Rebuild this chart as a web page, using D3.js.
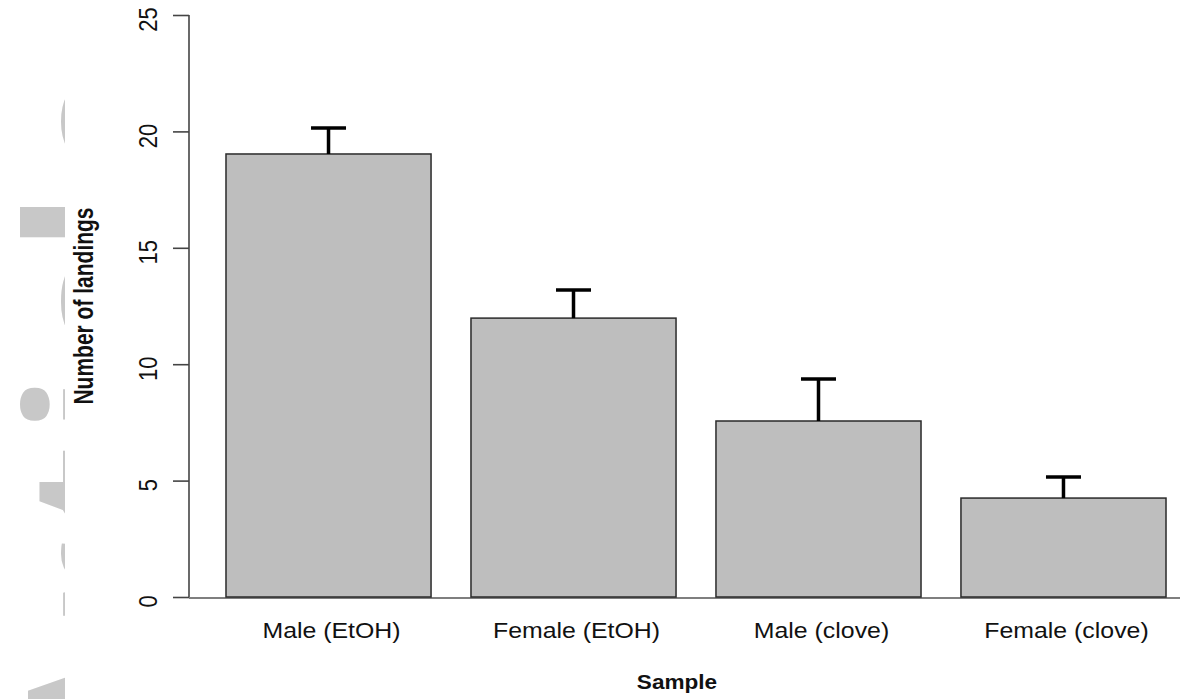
<!DOCTYPE html>
<html>
<head>
<meta charset="utf-8">
<script src="https://cdn.jsdelivr.net/npm/d3@7"></script>
<style>
  html, body { margin: 0; padding: 0; background: #fff; }
  svg { display: block; }
  text { font-family: Arial, "Liberation Sans", sans-serif; fill: #111; }
</style>
</head>
<body>
<svg id="chart" width="1194" height="699"></svg>
<script>
// Mean number of landings per sample, with standard error bars
const categories = ["Male (EtOH)", "Female (EtOH)", "Male (clove)", "Female (clove)"];
const means = [19.03, 11.98, 7.56, 4.25];
const errors = [1.12, 1.21, 1.80, 0.90];
const yTicks = [0, 5, 10, 15, 20, 25];
const xTitle = "Sample";
const yTitle = "Number of landings";
const watermark = "Accepted Article";

const svg = d3.select("#chart");
const W = 1194, H = 699;
const stretch = 1.13; // text is drawn slightly wide

// Journal watermark running up the left margin, mostly hidden behind the plot
const defs = svg.append("defs");
defs.append("clipPath").attr("id", "wm-clip")
  .append("rect").attr("x", 0).attr("y", 0).attr("width", 65).attr("height", H);
svg.append("g").attr("clip-path", "url(#wm-clip)")
  .append("text")
  .attr("transform", "translate(174,55) rotate(-90)")
  .attr("text-anchor", "end")
  .style("font-family", "'Open Sans', sans-serif")
  .style("font-weight", 700)
  .style("font-size", "203px")
  .style("letter-spacing", "8px")
  .style("fill", "#c8c8c8")
  .text(watermark);

// Scales
const y = d3.scaleLinear().domain([0, 25]).range([597, 15]);
const x = d3.scaleBand().domain(categories)
  .range([206, 1186])
  .paddingInner(0.163)
  .paddingOuter(0.0816);

// Baseline under the bars
svg.append("line")
  .attr("x1", 189).attr("x2", 1180)
  .attr("y1", y(0) + 1).attr("y2", y(0) + 1)
  .attr("stroke", "#555").attr("stroke-width", 1.5);

// Bars
svg.append("g").selectAll("rect")
  .data(categories)
  .join("rect")
  .attr("x", d => x(d))
  .attr("width", x.bandwidth())
  .attr("y", (d, i) => y(means[i]))
  .attr("height", (d, i) => y(0) - y(means[i]))
  .attr("fill", "#bebebe")
  .attr("stroke", "#2a2a2a")
  .attr("stroke-width", 1.5);

// Error bars (upper half only)
const eb = svg.append("g").attr("stroke", "#000").attr("stroke-width", 3.5).attr("fill", "none");
categories.forEach((c, i) => {
  const cx = x(c) + x.bandwidth() / 2;
  eb.append("line").attr("x1", cx).attr("x2", cx)
    .attr("y1", y(means[i])).attr("y2", y(means[i] + errors[i]));
  eb.append("line").attr("x1", cx - 17.5).attr("x2", cx + 17.5)
    .attr("y1", y(means[i] + errors[i])).attr("y2", y(means[i] + errors[i]));
});

// Y axis
const yAxis = d3.axisLeft(y).tickValues(yTicks).tickSize(16).tickSizeOuter(0).tickPadding(0);
const gy = svg.append("g").attr("transform", "translate(189,0)").call(yAxis);
gy.select(".domain").attr("stroke", "#444").attr("stroke-width", 1.6)
  .attr("d", `M0,${y(25)}V${y(0)}`);
gy.selectAll(".tick line").attr("stroke", "#444").attr("stroke-width", 1.6);
gy.selectAll(".tick text").remove();
gy.selectAll(".tick").append("text")
  .attr("transform", `translate(-41,4) scale(${stretch},1) rotate(-90)`)
  .attr("text-anchor", "middle")
  .attr("dy", "0.36em")
  .style("font-size", "22px")
  .style("fill", "#111")
  .text(d => d);

// Category labels
svg.append("g").selectAll("text")
  .data(categories)
  .join("text")
  .attr("transform", d => `translate(${x(d) + x.bandwidth() / 2 + 3},638) scale(${stretch},1)`)
  .attr("text-anchor", "middle")
  .style("font-size", "22px")
  .text(d => d);

// Axis titles
svg.append("text")
  .attr("transform", `translate(${677},689) scale(${stretch},1)`)
  .attr("text-anchor", "middle")
  .style("font-size", "20px")
  .style("font-weight", "bold")
  .text(xTitle);

svg.append("text")
  .attr("transform", `translate(93,306) scale(1.3,1) rotate(-90)`)
  .attr("text-anchor", "middle")
  .style("font-size", "21px")
  .style("font-weight", "bold")
  .text(yTitle);
</script>
</body>
</html>
